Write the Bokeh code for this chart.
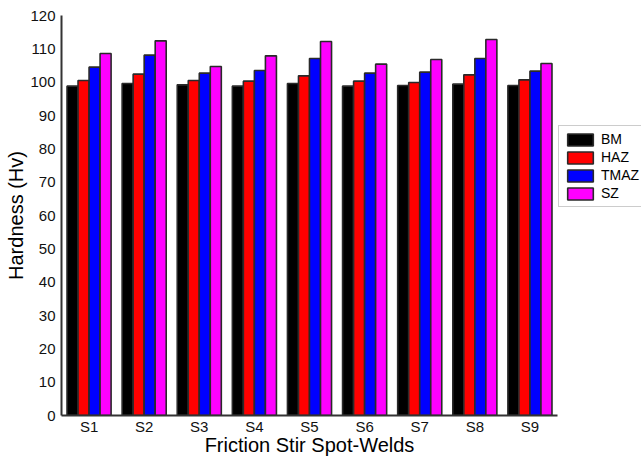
from bokeh.plotting import figure
from bokeh.models import ColumnDataSource, FactorRange, Range1d, Legend, LegendItem, FixedTicker
from bokeh.transform import dodge
from bokeh.embed import file_html
from bokeh.resources import INLINE

welds = ["S1", "S2", "S3", "S4", "S5", "S6", "S7", "S8", "S9"]
bm = [98.8, 99.6, 99.2, 98.8, 99.6, 98.8, 99.0, 99.4, 99.0]
haz = [100.5, 102.4, 100.5, 100.3, 101.9, 100.3, 99.9, 102.2, 100.7]
tmaz = [104.5, 108.1, 102.7, 103.5, 107.1, 102.7, 103.0, 107.1, 103.3]
sz = [108.6, 112.4, 104.7, 107.9, 112.2, 105.4, 106.8, 112.8, 105.6]
series_names = ["BM", "HAZ", "TMAZ", "SZ"]
series_colors = ["#000000", "#ff0000", "#0000ff", "#ff00ff"]
y_ticks = list(range(0, 121, 10))

source = ColumnDataSource(dict(weld=welds, BM=bm, HAZ=haz, TMAZ=tmaz, SZ=sz))

FONT = "Liberation Sans"

p = figure(
    x_range=FactorRange(factors=welds, range_padding=0),
    y_range=Range1d(0, 120),
    frame_width=496, frame_height=400,
    min_border_left=61, min_border_right=0,
    min_border_top=15, min_border_bottom=0,
    output_backend="svg", toolbar_location=None,
)

offsets = [-0.3, -0.1, 0.1, 0.3]
items = []
for name, color, off in zip(series_names, series_colors, offsets):
    r = p.vbar(x=dodge("weld", off, range=p.x_range), top=name, width=0.2,
               source=source, fill_color=color, line_color="#2a2a2a", line_width=1.6)
    items.append(LegendItem(label=name, renderers=[r]))

legend = Legend(items=items, location=(1, 208), margin=0, padding=5,
                spacing=2, glyph_width=32, glyph_height=15, label_height=15,
                label_standoff=5, label_text_font=FONT, label_text_font_size="14px",
                label_text_color="#000000", border_line_color="#999999",
                border_line_width=1, background_fill_color="white",
                background_fill_alpha=1.0)
p.add_layout(legend, "right")

p.xgrid.visible = False
p.ygrid.visible = False
p.outline_line_color = None

p.yaxis.ticker = FixedTicker(ticks=y_ticks)
for ax in (p.xaxis, p.yaxis):
    ax.major_tick_line_color = None
    ax.minor_tick_line_color = None
    ax.axis_line_color = "#333333"
    ax.axis_line_width = 2
    ax.major_label_text_font = FONT
    ax.major_label_text_font_size = "15px"
    ax.major_label_text_color = "#111111"
    ax.axis_label_text_font = FONT
    ax.axis_label_text_font_size = "20px"
    ax.axis_label_text_font_style = "normal"
    ax.axis_label_text_color = "#000000"

p.xaxis.axis_label = "Friction Stir Spot-Welds"
p.yaxis.axis_label = "Hardness (Hv)"
p.xaxis.major_label_standoff = -4
p.yaxis.major_label_standoff = 0
p.xaxis.axis_label_standoff = -4
p.yaxis.axis_label_standoff = 0

open("out.html", "w").write(file_html(p, INLINE))
